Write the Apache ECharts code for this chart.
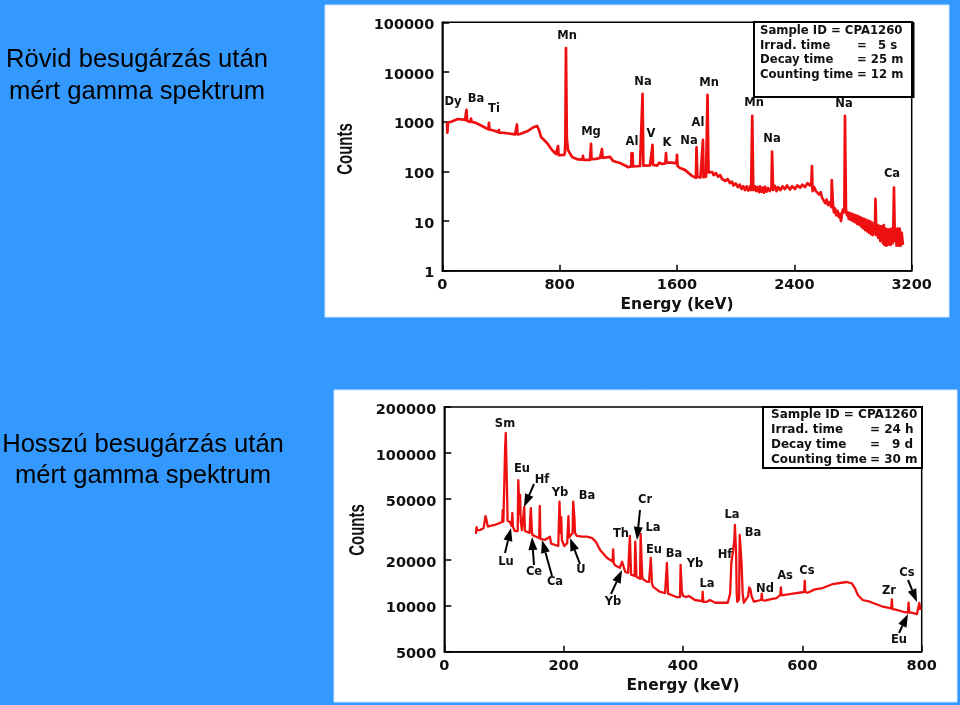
<!DOCTYPE html>
<html>
<head>
<meta charset="utf-8">
<style>html,body{margin:0;padding:0;background:#3399ff}#c{width:960px;height:705px}</style>
<script src="https://cdn.jsdelivr.net/npm/echarts@6/dist/echarts.min.js"></script>
</head>
<body>
<div id="c"></div>
<script>
const titleShort = ['Rövid besugárzás után', 'mért gamma spektrum'];
const titleLong = ['Hosszú besugárzás után', 'mért gamma spektrum'];
const axisNameX = 'Energy (keV)';
const axisNameY = 'Counts';

const shortTicksY = [1, 10, 100, 1000, 10000, 100000];
const shortTicksX = [0, 800, 1600, 2400, 3200];
const longTicksY = [5000, 10000, 20000, 50000, 100000, 200000];
const longTicksX = [0, 200, 400, 600, 800];

// [energy keV, counts]
const shortSpectrum = [
  [32,950],[35,600],[38,950],[60,1000],[107,1133],[155,1082],[161,1075],[165,1720],[169,1040],[189,986],[193,1000],[196,1150],[199,1000],[230,942],
  [284,782],[314,700],[318,942],[322,690],[339,680],[383,610],[386,680],[389,600],[427,592],[496,553],[505,540],[509,878],[513,555],[530,565],
  [584,650],[625,782],[646,820],[659,680],[673,492],[714,373],[748,269],[775,224],[785,215],[789,324],[793,212],[802,209],[830,214],[836,240],
  [839,448],[843,30400],[846,30400],[849,448],[857,269],[884,195],[925,174],[955,172],[959,204],[963,170],[1007,170],[1011,176],[1014,356],[1017,176],[1048,178],[1075,186],
  [1085,186],[1089,282],[1093,186],[1143,195],[1164,162],[1211,147],[1266,122],[1288,125],[1290,231],[1293,128],[1297,231],[1300,125],[1303,122],[1348,128],[1361,130],[1365,3610],[1368,3610],[1371,130],
  [1416,131],[1429,132],[1433,340],[1437,134],[1464,130],[1476,141],[1480,150],[1484,161],[1488,146],[1498,141],[1521,145],[1525,234],[1529,150],[1566,150],[1596,145],[1600,214],[1604,128],
  [1620,117],[1654,107],[1702,81],[1729,74],[1733,305],[1736,305],[1739,78],[1745,74],[1760,75],[1773,74],[1777,428],[1781,76],[1798,78],[1805,78],[1808,3445],[1811,3445],[1815,95],[1825,91],
  [1840,97],[1850,84],[1866,92],[1880,78],[1895,84],[1907,70],[1920,76],[1930,64],[1945,70],[1961,58],[1975,62],[1985,52],[2000,57],[2016,48],[2028,54],[2040,44],[2052,50],[2063,42],[2075,50],[2085,41],[2097,49],[2105,42],
  [2109,45],[2113,1303],[2116,1303],[2120,42],[2132,50],[2140,40],[2150,48],[2160,38],[2166,50],[2175,39],[2185,47],[2192,37],[2200,49],[2210,39],[2220,46],[2232,40],
  [2244,48],[2248,249],[2251,249],[2255,42],[2268,51],[2278,40],[2290,48],[2305,42],[2320,50],[2336,44],[2350,52],[2370,43],[2385,50],[2404,44],[2420,52],[2440,47],[2455,54],[2472,48],[2490,58],[2506,52],[2516,60],
  [2520,128],[2524,40],[2535,48],[2547,40],[2558,42],[2570,34],[2580,38],[2588,30],[2600,30],[2610,23],[2620,27],[2629,21],[2640,24],[2652,19],
  [2655,67],[2659,67],[2663,22],[2670,15],[2677,18],[2685,13],[2695,16],[2703,12],[2711,14],[2718,10],[2725,14],[2731,17],[2741,15],[2745,1303],[2748,1303],[2752,17],[2759,13],
  [2765,15],[2771,11],[2778,14.5],[2785,10.5],[2792,14],[2799,10],[2806,13.5],[2813,9.5],[2820,13],[2827,8.8],[2834,12.5],[2841,8.5],[2848,12],[2855,7.8],[2861,11.5],[2868,7.2],[2875,11],[2882,6.6],[2889,10.5],
  [2896,6.2],[2903,10.2],[2910,5.8],[2917,9.8],[2924,5.4],[2931,9.2],[2938,5.2],[2950,8.5],[2953,27.8],[2956,27.8],[2959,5.2],[2965,8.4],[2972,4.6],[2979,8],[2986,4],[2993,7.8],[3004,3.6],[3010,8.3],[3014,3.3],
  [3021,7],[3028,3.2],[3035,6.8],[3042,3.4],[3049,6.8],[3056,3.3],[3063,7],[3070,3.6],[3075,6.8],[3079,47],[3082,47],[3085,4],[3090,7],[3097,3.2],[3104,7],[3111,3.2],[3118,7],[3125,3.2],[3132,5.8],[3140,3.3]
];
const longSpectrum = [
  [53,29500],[54,32700],[55,31300],[60,31300],[66,32300],[68,32000],[69,38650],[70,37500],[72,38000],[73,33000],[77,33300],[85,33800],[93,34800],[97,35300],[98,42350],[99,35500],[101,36500],
  [102,110000],[103,135200],[104,135200],[105,60000],[106,36000],[110,35300],[113,33300],[114,40470],[115,33000],[118,30900],[123,30800],[124,66500],[125,66500],[126,40000],[127,53100],[128,36000],[130,31300],
  [133,30800],[134,44300],[135,31000],[139,30400],[143,30000],[144,38000],[145,43600],[146,36000],[147,30000],[148,29000],[150,29000],[155,28200],[159,27800],[160,44980],[161,27400],[162,26900],
  [169,27000],[177,28300],[179,25500],[182,25000],[191,24600],[192,24700],[193,48000],[194,48000],[195,30000],[196,38000],[197,27000],[201,24600],[206,25700],[208,38650],[209,28000],[211,28300],
  [215,30000],[216,48000],[217,48000],[218,38000],[219,30000],[222,28700],[231,28300],[239,28300],[248,27700],[254,26200],[261,23200],[273,20500],[282,19500],[283,23400],[284,19000],[286,18400],[294,17700],
  [298,19400],[303,16700],[308,16400],[310,16000],[311,28600],[312,28600],[313,16000],[316,15900],[319,15700],[320,26250],[321,26250],[322,15500],[323,15200],[328,15000],[329,29480],[330,29480],[331,18000],[332,15000],
  [335,14700],[339,14400],[343,14300],[345,18000],[346,20530],[347,20530],[348,14000],[350,13300],[361,12350],[370,12100],[372,12000],[373,19040],[374,19040],[375,12000],[378,11750],[389,11400],[395,11400],[396,18470],[397,18470],[398,12500],
  [400,11600],[405,11400],[410,11570],[420,10900],[432,10700],[433,12350],[434,10600],[440,10620],[445,10900],[454,10460],[475,10460],[479,12000],[481,19040],[482,19040],[484,23000],[486,26930],[487,33780],[488,33780],[489,22000],[490,12000],[491,10600],
  [494,11000],[495,29040],[497,29040],[498,19410],[499,19410],[500,12000],[502,10460],[509,11500],[511,13200],[513,12800],[515,11500],[519,10620],[531,10900],[532,12000],[533,10900],[537,10780],
  [546,11000],[557,11230],[563,11800],[564,13200],[565,11700],[567,11700],[584,12000],[603,12300],[604,14580],[605,12300],[609,12160],[621,12800],[634,13060],[651,13870],[674,14300],[683,14020],[688,13060],[693,11750],
  [701,10900],[713,10620],[735,9850],[749,9600],[750,11010],[751,9500],[755,9470],[769,9130],[777,9000],[778,10460],[779,9000],[783,9000],[792,8820],[795,8820],[796,10420],[798,9370]
];

const fontWide = '"DejaVu Sans", sans-serif';
const RED = '#ee1010';

const gfx = [];
function panel(x, y, w, h) {
  gfx.push({type:'rect', z:-1, silent:true, shape:{x, y, width:w, height:h}, style:{fill:'#ffffff', stroke:'#cfe8ff', lineWidth:1}});
}
function heading(lines, cx, y1, y2) {
  lines.forEach((t, i) => gfx.push({type:'text', x:cx, y:i ? y2 : y1, style:{text:t, font:'25.6px "Liberation Sans", Arial, sans-serif', fill:'#000', textAlign:'center', textVerticalAlign:'middle'}}));
}
function note(t, x, y) {
  gfx.push({type:'text', z:20, x, y, style:{text:t, font:'bold 11.5px ' + fontWide, fill:'#111', textAlign:'center', textVerticalAlign:'middle'}});
}
function box(x, y, w, h, lw) {
  gfx.push({type:'rect', z:15, shape:{x, y, width:w, height:h}, style:{fill:'#fff', stroke:'#000', lineWidth:lw}});
}
function boxText(t, x, y, size) {
  gfx.push({type:'text', z:20, x, y, style:{text:t, font:'bold ' + size + 'px ' + fontWide, fill:'#111', textAlign:'left', textVerticalAlign:'middle'}});
}
function arrow(x1, y1, x2, y2) {
  const a = Math.atan2(y2 - y1, x2 - x1), L = 13, W = 4.5;
  const bx = x2 - L * Math.cos(a), by = y2 - L * Math.sin(a);
  gfx.push({type:'line', z:18, shape:{x1, y1, x2:bx, y2:by}, style:{stroke:'#000', lineWidth:2}});
  gfx.push({type:'polygon', z:18, shape:{points:[[x2,y2],[bx - W*Math.sin(a), by + W*Math.cos(a)],[bx + W*Math.sin(a), by - W*Math.cos(a)]]}, style:{fill:'#000'}});
}
function countsLabel(x, y) {
  gfx.push({type:'text', z:20, x, y, rotation:Math.PI/2, scaleX:0.68, style:{text:axisNameY, font:'bold 22px "Liberation Sans", Arial, sans-serif', fill:'#111', textAlign:'center', textVerticalAlign:'middle'}});
}

panel(325, 5, 624, 312);
panel(334, 390, 623, 312);
heading(titleShort, 137, 60, 92);
heading(titleLong, 143, 445, 476);
countsLabel(346, 149);
countsLabel(358, 530);

[['Mn',567,36],['Dy',453,102],['Ba',476,99],['Ti',494,109],['Mg',591,132],['Al',632,142],['Na',643,82],['V',651,134],['K',667,143],
 ['Na',689,141],['Al',698,123],['Mn',709,83],['Mn',754,103],['Na',772,139],['Na',844,104],['Ca',892,174],
 ['Sm',505,424],['Eu',522,469],['Hf',542,480],['Yb',560,493],['Ba',587,496],['Cr',645,500],['Th',621,534],['La',653,528],['Eu',654,550],
 ['Ba',674,554],['Yb',695,564],['La',707,584],['Hf',725,555],['La',732,515],['Ba',753,533],['Nd',765,589],['As',785,576],['Cs',807,571],
 ['Zr',889,591],['Cs',907,573],['Eu',899,640],['Lu',506,562],['Ce',534,572],['Ca',555,582],['U',581,570],['Yb',613,602]
].forEach(n => note(n[0], n[1], n[2]));

[[505,553,511,528],[534,484,524,507],[534,565,532,537],[552,576,542,540],[580,564,570,538],[611,594,622,570],[640,510,637,540],[908,580,917,602],[899,633,908,614]
].forEach(a => arrow(a[0], a[1], a[2], a[3]));

box(754, 22, 158, 75, 2);
gfx.push({type:'line', z:16, shape:{x1:913, y1:22, x2:913, y2:98}, style:{stroke:'#000', lineWidth:3}});
[['Sample ID = CPA1260',760,31],['Irrad. time',760,45.7],['=',857,45.7],['5 s',878,45.7],['Decay time',760,60],['= 25 m',857,60],['Counting time',760,75],['= 12 m',857,75]
].forEach(t => boxText(t[0], t[1], t[2], 11.7));
box(763, 407, 159, 61, 2);
[['Sample ID = CPA1260',771,415],['Irrad. time',771,430],['= 24 h',870,430],['Decay time',771,445],['=',870,445],['9 d',892,445],['Counting time',771,459.5],['= 30 m',870,459.5]
].forEach(t => boxText(t[0], t[1], t[2], 12));

const tickFont = {fontFamily:'DejaVu Sans', fontWeight:'bold', fontSize:14.5, color:'#111'};
function xAxis(idx, max, interval, ticks, gap) {
  return {
    type:'value', gridIndex:idx, min:0, max, interval, name:axisNameX, nameLocation:'middle', nameGap:gap,
    nameTextStyle:{fontFamily:'DejaVu Sans', fontWeight:'bold', fontSize:15.5, color:'#111'},
    splitLine:{show:false},
    axisLine:{show:true, onZero:false, lineStyle:{color:'#000', width:1.5}},
    axisTick:{show:true, inside:true, length:6, customValues:ticks, lineStyle:{color:'#000', width:1.5}},
    axisLabel:Object.assign({show:true, margin:7, customValues:ticks, hideOverlap:false, formatter:v => String(v)}, tickFont)
  };
}
function yAxis(idx, min, max, ticks) {
  return {
    type:'log', logBase:10, gridIndex:idx, min, max,
    splitLine:{show:false}, minorTick:{show:false}, minorSplitLine:{show:false},
    axisLine:{show:true, onZero:false, lineStyle:{color:'#000', width:1.5}},
    axisTick:{show:true, inside:true, length:7, customValues:ticks, lineStyle:{color:'#000', width:1.5}},
    axisLabel:{show:true, margin:8, customValues:ticks, hideOverlap:false,
      formatter:v => '{t|' + Math.round(v) + '}',
      rich:{t:Object.assign({padding:[6,0,0,0]}, tickFont)}}
  };
}
function spec(idx, data, w) {
  return {type:'line', xAxisIndex:idx, yAxisIndex:idx, data, showSymbol:false, symbol:'none', animation:false, silent:true,
    clip:false, lineStyle:{color:RED, width:w, join:'round'}, z:5};
}

const chart = echarts.init(document.getElementById('c'), null, {renderer:'canvas'});
chart.setOption({
  backgroundColor:'#3399ff',
  animation:false,
  grid:[
    {left:442.3, top:22.3, width:469.4, height:248.4, show:true, borderColor:'#000', borderWidth:1.5, backgroundColor:'transparent', containLabel:false},
    {left:444.3, top:407, width:477.4, height:244.7, show:true, borderColor:'#000', borderWidth:1.5, backgroundColor:'transparent', containLabel:false}
  ],
  xAxis:[xAxis(0, 3200, 800, shortTicksX, 26), xAxis(1, 800, 200, longTicksX, 26)],
  yAxis:[yAxis(0, 1, 100000, shortTicksY), yAxis(1, 5000, 200000, longTicksY)],
  series:[spec(0, shortSpectrum, 2.7), spec(1, longSpectrum, 2.3)],
  graphic:{elements:gfx}
});
</script>
</body>
</html>
